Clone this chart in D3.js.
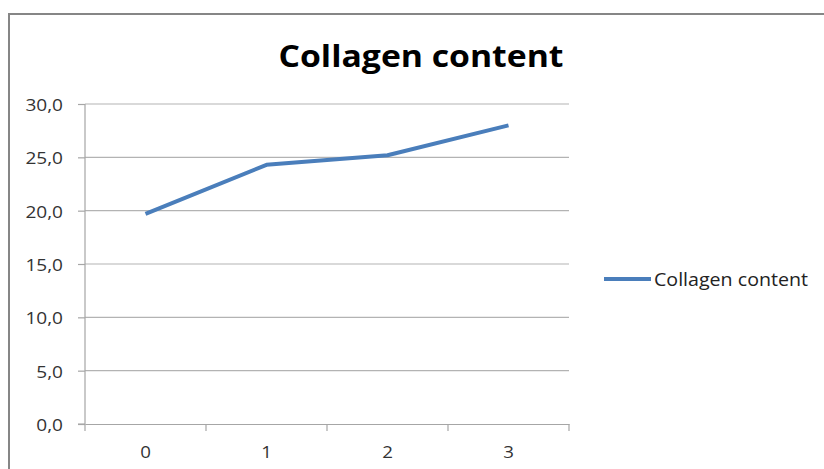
<!DOCTYPE html>
<html><head><meta charset="utf-8">
<script src="https://cdn.jsdelivr.net/npm/d3@7"></script>
<style>body{margin:0;background:#fff}svg{display:block}</style>
</head><body>
<svg id="c" width="824" height="469"></svg>
<script>
const categories = ["0", "1", "2", "3"];
const values = [19.7, 24.3, 25.2, 28.0];
const yTicks = [0, 5, 10, 15, 20, 25, 30];
const seriesName = "Collagen content";
const titleText = "Collagen content";

const svg = d3.select("#c");
const font = "'Open Sans', 'Liberation Sans', sans-serif";

// chart frame
svg.append("rect").attr("x", 9).attr("y", 14).attr("width", 830).attr("height", 470)
  .attr("fill", "#fff").attr("stroke", "#868686").attr("stroke-width", 2);

const x = d3.scaleBand().domain(categories).range([85, 569]).paddingInner(0).paddingOuter(0);
const y = d3.scaleLinear().domain([0, 30]).range([424, 104]);

// gridlines
svg.append("g").selectAll("line").data(yTicks.filter(d => d > 0)).join("line")
  .attr("x1", 85).attr("x2", 569).attr("y1", d => y(d)).attr("y2", d => y(d))
  .attr("stroke", "#b3b3b3").attr("stroke-width", 1.2);

function stretch(sel, k) {
  sel.each(function () {
    const w = this.getComputedTextLength();
    d3.select(this).attr("textLength", w * k).attr("lengthAdjust", "spacingAndGlyphs");
  });
}

// y axis
const yAxis = d3.axisLeft(y).tickValues(yTicks).tickSize(7).tickPadding(15)
  .tickFormat(d => d3.format(".1f")(d).replace(".", ","));
const gy = svg.append("g").attr("transform", "translate(85,0)").call(yAxis);
gy.select(".domain").attr("stroke", "#a6a6a6").attr("stroke-width", 1.2).attr("d", `M-7,${y(0)}H0V${y(30)}`);
gy.selectAll(".tick line").attr("stroke", "#a6a6a6").attr("stroke-width", 1.2);
gy.selectAll(".tick text").attr("font-family", font).attr("font-size", 17).attr("fill", "#333").attr("dy", "0.38em");
stretch(gy.selectAll(".tick text"), 1.12);

// x axis
const xAxis = d3.axisBottom(x).tickSize(0).tickPadding(22);
const gx = svg.append("g").attr("transform", `translate(0,${y(0)})`).call(xAxis);
gx.select(".domain").attr("stroke", "#a6a6a6").attr("stroke-width", 1.2);
gx.selectAll(".tick text").attr("font-family", font).attr("font-size", 17).attr("fill", "#333");
stretch(gx.selectAll(".tick text"), 1.1);
const bounds = categories.map(c => x(c)).concat([x(categories[categories.length - 1]) + x.bandwidth()]);
gx.append("g").selectAll("line").data(bounds).join("line")
  .attr("x1", d => d).attr("x2", d => d).attr("y1", 0).attr("y2", 7)
  .attr("stroke", "#a6a6a6").attr("stroke-width", 1.2);

// line
const line = d3.line().x((d, i) => x(categories[i]) + x.bandwidth() / 2).y(d => y(d));
svg.append("path").datum(values).attr("d", line)
  .attr("fill", "none").attr("stroke", "#4a7ebb").attr("stroke-width", 4)
  .attr("stroke-linejoin", "round").attr("stroke-linecap", "butt");

// title
const t = svg.append("text").attr("x", 421).attr("y", 67).attr("text-anchor", "middle")
  .attr("font-family", font).attr("font-weight", "bold").attr("font-size", 30).attr("fill", "#000")
  .text(titleText);
const tw = t.node().getComputedTextLength();
t.attr("textLength", 285).attr("lengthAdjust", "spacingAndGlyphs");

// legend
svg.append("line").attr("x1", 604).attr("x2", 651).attr("y1", 279).attr("y2", 279)
  .attr("stroke", "#4a7ebb").attr("stroke-width", 4);
const lt = svg.append("text").attr("x", 654).attr("y", 286).attr("font-family", font)
  .attr("font-size", 19).attr("fill", "#222").text(seriesName);
lt.attr("textLength", 154).attr("lengthAdjust", "spacingAndGlyphs");
</script>
</body></html>
